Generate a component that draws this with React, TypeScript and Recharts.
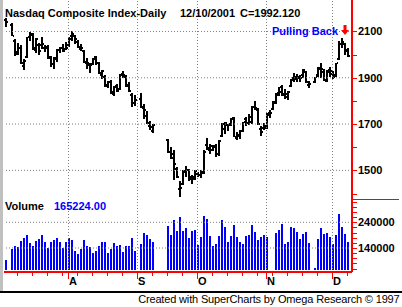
import React from "react"
import { ComposedChart, Bar, XAxis, YAxis, ReferenceLine } from "recharts"

const FONT = "'Liberation Sans', Arial, Helvetica, sans-serif"

// one slot per weekday, holidays and missing days stay empty
const dates = [
  "7/3", "7/4", "7/5", "7/6", "7/9", "7/10", "7/11", "7/12", "7/13", "7/16",
  "7/17", "7/18", "7/19", "7/20", "7/23", "7/24", "7/25", "7/26", "7/27", "7/30",
  "7/31", "8/1", "8/2", "8/3", "8/6", "8/7", "8/8", "8/9", "8/10", "8/13",
  "8/14", "8/15", "8/16", "8/17", "8/20", "8/21", "8/22", "8/23", "8/24", "8/27",
  "8/28", "8/29", "8/30", "8/31", "9/3", "9/4", "9/5", "9/6", "9/7", "9/10",
  "9/11", "9/12", "9/13", "9/14", "9/17", "9/18", "9/19", "9/20", "9/21", "9/24",
  "9/25", "9/26", "9/27", "9/28", "10/1", "10/2", "10/3", "10/4", "10/5", "10/8",
  "10/9", "10/10", "10/11", "10/12", "10/15", "10/16", "10/17", "10/18", "10/19", "10/22",
  "10/23", "10/24", "10/25", "10/26", "10/29", "10/30", "10/31", "11/1", "11/2", "11/5",
  "11/6", "11/7", "11/8", "11/9", "11/12", "11/13", "11/14", "11/15", "11/16", "11/19",
  "11/20", "11/21", "11/22", "11/23", "11/26", "11/27", "11/28", "11/29", "11/30", "12/3",
  "12/4", "12/5", "12/6", "12/7", "12/10",
]

const opens = [
  2150, null, 2130, 2060, 2010, 2030, 1950, 1990, 2075, 2090,
  2020, 2040, 2040, 2030, 2035, 1985, 1960, 1980, 2020, 2030,
  2025, 2040, 2080, 2080, 2055, 2025, 2015, 1970, 1955, 1960,
  1990, 1965, 1910, 1905, 1865, 1880, 1840, 1865, 1850, 1910,
  1905, 1870, 1825, 1790, null, 1810, 1775, 1735, 1690, 1670,
  null, null, null, null, 1630, 1580, 1570, 1505, 1420, 1440,
  1495, 1500, 1470, 1470, 1485, 1480, 1490, 1610, 1590, 1590,
  1600, 1570, 1650, 1680, 1695, 1700, 1725, 1640, 1650, 1670,
  1720, 1705, 1710, 1775, 1760, 1680, 1685, 1685, 1740, 1765,
  1790, 1825, 1860, 1825, 1815, 1865, 1900, 1895, 1905, 1910,
  1925, 1870, null, 1880, 1910, 1940, 1925, 1890, 1925, 1915,
  1910, 1980, 2045, 2045, 2015,
]
const highs = [
  2160, null, 2136, 2068, 2050, 2040, 1980, 2078, 2098, 2095,
  2070, 2050, 2075, 2040, 2040, 1995, 1990, 2025, 2035, 2045,
  2055, 2075, 2100, 2085, 2062, 2045, 2020, 1985, 1965, 1985,
  1995, 1970, 1935, 1910, 1885, 1890, 1865, 1875, 1918, 1930,
  1912, 1880, 1835, 1825, null, 1835, 1785, 1755, 1715, 1700,
  null, null, null, null, 1635, 1600, 1590, 1515, 1455, 1500,
  1520, 1505, 1480, 1500, 1495, 1500, 1590, 1640, 1615, 1610,
  1612, 1630, 1705, 1708, 1700, 1728, 1730, 1665, 1675, 1710,
  1730, 1745, 1776, 1800, 1770, 1690, 1705, 1747, 1760, 1800,
  1836, 1860, 1870, 1850, 1845, 1895, 1920, 1915, 1910, 1940,
  1930, 1885, null, 1905, 1945, 1965, 1940, 1935, 1945, 1930,
  1965, 2058, 2070, 2050, 2030,
]
const lows = [
  2120, null, 2080, 1995, 1998, 1960, 1935, 1985, 2060, 2020,
  2005, 2000, 2025, 2010, 1980, 1945, 1940, 1970, 2005, 2010,
  2020, 2035, 2060, 2045, 2030, 2015, 1962, 1940, 1920, 1955,
  1955, 1915, 1895, 1860, 1855, 1828, 1820, 1840, 1848, 1900,
  1862, 1840, 1775, 1780, null, 1768, 1720, 1700, 1675, 1660,
  null, null, null, null, 1575, 1550, 1460, 1465, 1387, 1435,
  1470, 1455, 1440, 1460, 1470, 1465, 1485, 1590, 1570, 1585,
  1558, 1560, 1645, 1655, 1668, 1690, 1645, 1630, 1635, 1665,
  1690, 1695, 1700, 1760, 1698, 1650, 1675, 1680, 1725, 1760,
  1785, 1820, 1820, 1810, 1805, 1860, 1880, 1880, 1880, 1900,
  1878, 1855, null, 1878, 1905, 1900, 1885, 1880, 1905, 1895,
  1905, 1975, 2030, 2000, 1990,
]
const closes = [
  2141, null, 2080, 2004, 2027, 1963, 1972, 2075, 2084, 2029,
  2067, 2016, 2046, 2029, 1988, 1959, 1985, 2022, 2029, 2017,
  2027, 2068, 2087, 2066, 2034, 2028, 1966, 1963, 1956, 1982,
  1965, 1919, 1930, 1867, 1881, 1831, 1860, 1843, 1917, 1912,
  1865, 1843, 1792, 1805, null, 1771, 1759, 1706, 1688, 1695,
  null, null, null, null, 1580, 1555, 1528, 1471, 1423, 1499,
  1502, 1464, 1461, 1499, 1480, 1492, 1581, 1597, 1605, 1606,
  1570, 1626, 1701, 1703, 1696, 1722, 1646, 1653, 1671, 1708,
  1704, 1732, 1775, 1769, 1700, 1667, 1690, 1746, 1746, 1794,
  1835, 1838, 1828, 1828, 1840, 1892, 1903, 1901, 1899, 1934,
  1881, 1875, null, 1903, 1941, 1936, 1888, 1933, 1931, 1905,
  1964, 2047, 2054, 2021, 1992.12,
]
const volumes = [
  94500, null, 137300, 149000, 145000, 167000, 179000, 190600, 159500, 149000,
  167000, 175000, 190600, 163000, 140000, 163000, 171000, 179000, 163000, 140000,
  163000, 179000, 171000, 128300, 116600, 136000, 171000, 149000, 145000, 120500,
  128300, 149000, 163000, 163000, 120500, 136000, 159500, 149000, 151700, 124400,
  149000, 149000, 179000, 128300, null, 155600, 198000, 190600, 175000, 163000,
  null, null, null, null, 225600, 190600, 249000, 206000, 260600, 206000,
  217800, 179000, 206000, 210000, 151700, 182800, 264500, 252800, 186700, 147800,
  155600, 186700, 249000, 221700, 163000, 186700, 229500, 182800, 163000, 155600,
  186700, 190600, 229500, 202000, 171000, 182800, 190600, 182800, null, null,
  198000, 210000, 233400, 155600, 163000, 221700, 217800, 202000, 175000, 194500,
  202000, 159500, null, 63000, 175000, 217800, 194500, 198000, 182800, 155600,
  190600, 272300, 221700, 194500, 165224,
]

const monthStarts = ["8/1", "9/3", "10/1", "11/1", "12/3"]
const monthLabels = ["A", "S", "O", "N", "D"]
const weekStarts = [
  "7/9", "7/16", "7/23", "7/30", "8/6", "8/13", "8/20", "8/27", "9/3", "9/10",
  "9/17", "9/24", "10/1", "10/8", "10/15", "10/22", "10/29", "11/5", "11/12",
  "11/19", "11/26", "12/3", "12/10",
]

const priceTicks = [1400, 1500, 1600, 1700, 1800, 1900, 2000, 2100]
const priceLabels = [1500, 1700, 1900, 2100]
const volumeTicks = [
  60000, 80000, 100000, 120000, 140000, 160000, 180000, 200000, 220000, 240000,
  260000, 280000, 300000, 320000,
]
const volumeLabels = [140000, 240000]

const VOL_BASE = 54400

const rows = dates.map((date, i) => ({
  date,
  open: opens[i],
  high: highs[i],
  low: lows[i],
  close: closes[i],
  volume: volumes[i],
}))

const axisTicks = dates.filter((d) => weekStarts.includes(d) || monthStarts.includes(d))

const OhlcShape = (props: any) => {
  const { x, y, width, height, payload } = props
  if (payload.high == null || !isFinite(y) || !isFinite(height)) return null
  const top = Math.min(y, y + height)
  const span = Math.abs(height)
  const range = payload.high - payload.low
  const toY = (v: number) => Math.round(top + (range > 0 ? ((payload.high - v) / range) * span : 0))
  const left = Math.floor(x + width / 2) - 1
  const t = Math.round(top)
  const b = Math.round(top + span)
  return (
    <g fill="#000">
      <rect x={left} y={t} width={2} height={Math.max(b - t, 1)} />
      <rect x={left - 1} y={toY(payload.open) - 1} width={1} height={2} />
      <rect x={left + 2} y={toY(payload.close) - 1} width={1} height={2} />
    </g>
  )
}

const VolumeShape = (props: any) => {
  const { x, y, width, height, payload } = props
  if (payload.volume == null || !isFinite(y) || !isFinite(height)) return null
  const top = Math.round(Math.min(y, y + height))
  const bot = Math.round(Math.max(y, y + height))
  return <rect x={Math.floor(x + width / 2) - 1} y={top} width={2} height={bot - top} fill="#0000ff" />
}

const PriceTick = ({ x, y, payload }: any) => {
  const yy = Math.round(y) + 0.5
  return (
    <g>
      <line x1={x} x2={x + 5} y1={yy} y2={yy} stroke="#ff0000" />
      {priceLabels.includes(payload.value) && (
        <text x={x + 6} y={y + 4} fontFamily={FONT} fontSize={11} fontWeight="bold" fill="#000">
          {payload.value}
        </text>
      )}
    </g>
  )
}

const VolumeTick = ({ x, y, payload }: any) => {
  const yy = Math.round(y) + 0.5
  return (
    <g>
      <line x1={x} x2={x + 5} y1={yy} y2={yy} stroke="#ff0000" />
      {volumeLabels.includes(payload.value) && (
        <text x={x + 6} y={y + 4} fontFamily={FONT} fontSize={11} fontWeight="bold" fill="#000">
          {payload.value}
        </text>
      )}
    </g>
  )
}

const DateTick = ({ x, y, payload }: any) => {
  const m = monthStarts.indexOf(payload.value)
  return (
    <g>
      <line x1={x} x2={x} y1={y} y2={y + (m >= 0 ? 7 : 4)} stroke="#ff0000" />
      {m >= 0 && (
        <text x={x + 0.5} y={y + 13} fontFamily={FONT} fontSize={11} fontWeight="bold" fill="#000">
          {monthLabels[m]}
        </text>
      )}
    </g>
  )
}

const dotted = { stroke: "#808080", strokeDasharray: "1 2" }

export default function App() {
  return (
    <div
      style={{
        position: "absolute",
        left: 0,
        top: 0,
        width: 402,
        height: 307,
        background: "#fff",
        overflow: "hidden",
      }}
    >
      <div style={{ position: "absolute", left: 0, top: 0 }}>
        <ComposedChart width={402} height={200} data={rows} margin={{ top: 0, right: 0, bottom: 0, left: 4 }}>
          <XAxis dataKey="date" hide padding={{ left: 0, right: 3 }} />
          <YAxis
            orientation="right"
            width={50}
            domain={[1372, 2236]}
            allowDataOverflow
            ticks={priceTicks}
            interval={0}
            tickSize={0}
            tickMargin={0}
            tickLine={false}
            axisLine={{ stroke: "#ff0000", strokeWidth: 2 }}
            tick={PriceTick}
          />
          {priceLabels.map((p) => (
            <ReferenceLine key={p} y={p} {...dotted} />
          ))}
          {monthStarts.map((d) => (
            <ReferenceLine key={d} x={d} {...dotted} />
          ))}
          <Bar
            dataKey={(d: any) => (d.high == null ? null : [d.low, d.high])}
            barSize={2}
            shape={OhlcShape}
            isAnimationActive={false}
          />
        </ComposedChart>
      </div>

      <div style={{ position: "absolute", left: 0, top: 200 }}>
        <ComposedChart width={402} height={88} data={rows} margin={{ top: 0, right: 0, bottom: 0, left: 4 }}>
          <XAxis
            dataKey="date"
            height={16}
            padding={{ left: 0, right: 3 }}
            ticks={axisTicks}
            interval={0}
            tickSize={0}
            tickMargin={0}
            tickLine={false}
            axisLine={{ stroke: "#ff0000", strokeWidth: 2 }}
            tick={DateTick}
          />
          <YAxis
            orientation="right"
            width={50}
            domain={[46600, 326800]}
            allowDataOverflow
            ticks={volumeTicks}
            interval={0}
            tickSize={0}
            tickMargin={0}
            tickLine={false}
            axisLine={{ stroke: "#ff0000", strokeWidth: 2 }}
            tick={VolumeTick}
          />
          {volumeLabels.map((v) => (
            <ReferenceLine key={v} y={v} {...dotted} />
          ))}
          {monthStarts.map((d) => (
            <ReferenceLine key={d} x={d} {...dotted} />
          ))}
          <Bar
            dataKey={(d: any) => (d.volume == null ? null : [VOL_BASE, d.volume])}
            barSize={2}
            shape={VolumeShape}
            isAnimationActive={false}
          />
        </ComposedChart>
      </div>

      <svg
        width={402}
        height={307}
        style={{ position: "absolute", left: 0, top: 0, pointerEvents: "none" }}
        fontFamily={FONT}
      >
        <rect x={0} y={0} width={3} height={291} fill="#c0c0c0" />
        <rect x={352} y={199} width={47} height={1} fill="#ff0000" />
        <rect x={0} y={291} width={402} height={2} fill="#000" />
        <text y={17} fontSize={11} fontWeight="bold" fill="#000">
          <tspan x={5}>Nasdaq Composite Index-Daily</tspan>
          <tspan x={180}>12/10/2001</tspan>
          <tspan x={240}>C=1992.120</tspan>
        </text>
        <text x={272} y={35} fontSize={11} fontWeight="bold" fill="#0000ff">
          Pulling Back
        </text>
        <path d="M343.5 25 h3 v5 h2.5 l-4 5 l-4 -5 h2.5 z" fill="#ff0000" />
        <text y={210} fontSize={11} fontWeight="bold">
          <tspan x={5} fill="#000">Volume</tspan>
          <tspan x={54} fill="#0000ff">165224.00</tspan>
        </text>
        <text x={399.5} y={302.5} fontSize={11} textAnchor="end" fill="#000" letterSpacing={-0.16}>
          Created with SuperCharts by Omega Research © 1997
        </text>
      </svg>
    </div>
  )
}
